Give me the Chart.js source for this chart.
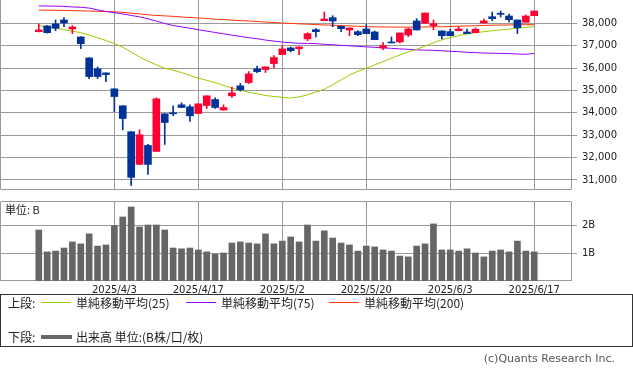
<!DOCTYPE html>
<html>
<head>
<meta charset="utf-8">
<script src="https://cdn.jsdelivr.net/npm/chart.js@4.4.1/dist/chart.umd.min.js"></script>
<style>
  body { margin: 0; background: #fff; width: 633px; height: 372px; position: relative; overflow: hidden; }
  canvas { position: absolute; left: 0; }
  #priceChart { top: 0; }
  #volumeChart { top: 195px; }
  .txt { position: absolute; white-space: nowrap; font-family: "Noto Sans CJK JP", sans-serif; color: #222; }
  #unit { left: 5px; top: 201px; font-size: 11px; }
  #legendBox { position: absolute; left: 0; top: 294px; width: 631px; height: 51px; border: 1px solid #333; }
  .sw { position: absolute; }
  #copy { right: 18px; top: 352px; font-size: 11px; color: #555; font-family: "DejaVu Sans", sans-serif; }
</style>
</head>
<body>
<canvas id="priceChart" width="633" height="192"></canvas>
<canvas id="volumeChart" width="633" height="100"></canvas>
<div class="txt" id="unit">単位: B</div>
<div id="legendBox">
  <div class="txt" style="left:7px; top:-1px; font-size:12px;">上段:</div>
  <div class="sw" style="left:40px; top:7px; width:30px; height:1px; background:#99cc00;"></div>
  <div class="txt" style="left:75px; top:-1px; font-size:12px;">単純移動平均(25)</div>
  <div class="sw" style="left:185px; top:7px; width:30px; height:1px; background:#9900ff;"></div>
  <div class="txt" style="left:220px; top:-1px; font-size:12px;">単純移動平均(75)</div>
  <div class="sw" style="left:328px; top:7px; width:30px; height:1px; background:#ff3300;"></div>
  <div class="txt" style="left:363px; top:-1px; font-size:12px;">単純移動平均(200)</div>
  <div class="txt" style="left:7px; top:33px; font-size:12px;">下段:</div>
  <div class="sw" style="left:40px; top:40px; width:31px; height:4px; background:#666;"></div>
  <div class="txt" style="left:75px; top:33px; font-size:12px;">出来高 単位:(B株/口/枚)</div>
</div>
<div class="txt" id="copy">(c)Quants Research Inc.</div>

<script>
const dates = ['2025/3/21','2025/3/24','2025/3/25','2025/3/26','2025/3/27','2025/3/28','2025/3/31',
  '2025/4/1','2025/4/2','2025/4/3','2025/4/4','2025/4/7','2025/4/8','2025/4/9','2025/4/10','2025/4/11',
  '2025/4/14','2025/4/15','2025/4/16','2025/4/17','2025/4/18','2025/4/21','2025/4/22','2025/4/23','2025/4/24','2025/4/25',
  '2025/4/28','2025/4/30','2025/5/1','2025/5/2','2025/5/7','2025/5/8','2025/5/9',
  '2025/5/12','2025/5/13','2025/5/14','2025/5/15','2025/5/16','2025/5/19','2025/5/20','2025/5/21','2025/5/22','2025/5/23',
  '2025/5/26','2025/5/27','2025/5/28','2025/5/29','2025/5/30','2025/6/2','2025/6/3','2025/6/4','2025/6/5','2025/6/6',
  '2025/6/9','2025/6/10','2025/6/11','2025/6/12','2025/6/13','2025/6/16','2025/6/17'];

const open  = [37625,37880,37970,38147,37746,37389,36452,35962,35783,35070,34312,33152,31694,32541,32273,33955,
  34000,34356,34267,33968,34325,34593,34120,34758,35204,35351,35962,35931,36198,36600,36898,36867,37300,
  37715,38116,38250,37866,37701,37625,37746,37612,36898,37166,37166,37478,38103,38000,37893,37656,37625,
  37670,37612,37581,38013,38294,38446,38325,38147,38045,38339];
const high  = [37970,37900,38147,38250,37893,37400,36460,36051,35790,35080,34320,33160,33241,32586,34668,33960,
  34312,34445,34356,34405,34758,34669,34356,35146,35306,35841,36082,36051,36555,37001,36943,36943,37580,
  37759,38504,38339,37870,37790,37670,37938,37656,37135,37389,37567,37790,38205,38459,38147,37660,37732,
  37848,37746,37790,38192,38504,38549,38415,38150,38370,38549];
const low   = [37612,37560,37670,37848,37536,36867,35529,35529,35395,34057,33241,30757,31694,31248,32273,32586,
  33866,34236,33612,33968,34191,34192,34120,34682,34967,35306,35797,35797,36006,36600,36720,36600,37224,
  37389,38116,37848,37625,37447,37447,37536,37269,36823,37121,37121,37402,37701,38000,37715,37300,37447,
  37670,37536,37581,38013,38116,38281,38058,37536,38045,38339];
const close = [37700,37580,37777,38013,37835,37090,35618,35618,35708,34726,33745,31114,33018,31694,34624,33567,
  33955,34236,33866,34401,34758,34236,34236,34891,35025,35739,35841,36051,36466,36854,36778,36943,37536,
  37625,38192,38103,37759,37790,37491,37536,37269,37001,37121,37567,37746,37701,38459,37982,37447,37447,
  37746,37536,37732,38103,38205,38401,38161,37804,38325,38549];

const ma25  = [37890,37840,37780,37710,37650,37580,37470,37350,37230,37090,36930,36720,36490,36310,36140,35990,
  35900,35797,35670,35547,35450,35351,35225,35101,35010,34923,34850,34771,34730,34690,34660,34710,34800,
  34930,35050,35250,35470,35690,35850,35993,36140,36287,36440,36586,36720,36840,36980,37130,37260,37358,
  37445,37523,37575,37625,37665,37701,37740,37777,37812,37848];
const ma75  = [38775,38770,38765,38755,38730,38715,38680,38600,38530,38470,38420,38350,38290,38200,38100,37990,
  37900,37840,37780,37710,37650,37590,37530,37470,37410,37355,37310,37250,37205,37160,37130,37105,37100,
  37090,37060,37040,37015,36995,36970,36945,36925,36900,36880,36855,36835,36810,36800,36790,36770,36750,
  36730,36705,36690,36670,36660,36655,36645,36625,36615,36650];
const ma200 = [38590,38585,38580,38575,38565,38555,38545,38535,38525,38510,38490,38450,38420,38380,38350,38330,
  38310,38280,38260,38235,38215,38180,38160,38140,38120,38100,38080,38055,38035,38010,37995,37975,37960,
  37940,37925,37910,37895,37880,37865,37850,37840,37835,37830,37830,37830,37830,37835,37840,37845,37855,
  37870,37880,37890,37905,37915,37920,37925,37930,37935,37940];

const volume = [1.84,1.05,1.08,1.19,1.41,1.34,1.70,1.26,1.30,2.00,2.31,2.67,1.95,2.02,2.02,1.84,
  1.19,1.16,1.19,1.12,1.05,0.97,1.01,1.37,1.41,1.37,1.34,1.70,1.34,1.44,1.59,1.41,2.02,
  1.44,1.81,1.55,1.37,1.30,1.08,1.26,1.23,1.12,1.08,0.90,0.87,1.26,1.34,2.06,1.12,1.12,
  1.08,1.16,1.01,0.87,1.08,1.12,1.05,1.44,1.08,1.05];

const tickDates = ['2025/4/3','2025/4/17','2025/5/2','2025/5/20','2025/6/3','2025/6/17'];
const priceTicks = [31000,32000,33000,34000,35000,36000,37000,38000];
const volumeTicks = [1, 2];

const UP = '#ff0033', DOWN = '#003399', GRID = '#999999';
const tickIdx = tickDates.map(function(d) { return dates.indexOf(d); });
const candleColors = close.map(function(c, i) { return c >= open[i] ? UP : DOWN; });

// border round the plot area
const framePlugin = {
  id: 'frame',
  beforeDatasetsDraw: function(chart, args, opts) {
    const a = chart.chartArea, c = chart.ctx;
    const l = Math.round(a.left) - 0.5, r = Math.round(a.right) - 0.5;
    const t = Math.round(a.top) - 0.5, b = Math.round(a.bottom) - 0.5;
    c.save();
    c.strokeStyle = GRID;
    c.lineWidth = 1;
    c.beginPath();
    if (opts.top) { c.moveTo(l, t); c.lineTo(r, t); }
    c.moveTo(l, a.top); c.lineTo(l, b);
    c.lineTo(r, b);
    c.lineTo(r, a.top);
    c.stroke();
    c.restore();
  }
};

function xAxis(showLabels) {
  return {
    type: 'linear',
    min: -4.5,
    max: 63.5,
    offset: false,
    afterBuildTicks: function(scale) {
      scale.ticks = tickIdx.map(function(v) { return { value: v }; });
    },
    afterFit: function(scale) {
      scale.height = showLabels ? 14 : 2;
      scale.paddingLeft = 0;
      scale.paddingRight = 0;
    },
    grid: { color: GRID, drawTicks: false, offset: false },
    border: { display: false },
    ticks: {
      display: showLabels,
      padding: 3,
      maxRotation: 0,
      autoSkip: false,
      color: '#222',
      font: { family: 'DejaVu Sans', size: 10 },
      callback: function(v) { return dates[v]; }
    }
  };
}

function yAxis(min, max, list, fmt) {
  return {
    type: 'linear',
    position: 'right',
    min: min,
    max: max,
    afterBuildTicks: function(scale) {
      scale.ticks = list.map(function(v) { return { value: v }; });
    },
    afterFit: function(scale) {
      scale.width = 61;
      scale.paddingTop = 0;
      scale.paddingBottom = 0;
    },
    grid: { color: GRID, tickLength: 5, tickColor: GRID },
    border: { display: false },
    ticks: {
      padding: 5,
      color: '#222',
      font: { family: 'DejaVu Sans', size: 10 },
      callback: fmt
    }
  };
}

const priceChart = new Chart(document.getElementById('priceChart').getContext('2d'), {
  data: {
    datasets: [
      {
        type: 'line', label: 'MA25', order: 3,
        data: ma25.map(function(v, i) { return { x: i, y: v }; }),
        borderColor: '#99cc00', borderWidth: 1, pointRadius: 0, tension: 0
      },
      {
        type: 'line', label: 'MA75', order: 3,
        data: ma75.map(function(v, i) { return { x: i, y: v }; }),
        borderColor: '#9900ff', borderWidth: 1, pointRadius: 0, tension: 0
      },
      {
        type: 'line', label: 'MA200', order: 3,
        data: ma200.map(function(v, i) { return { x: i, y: v }; }),
        borderColor: '#ff3300', borderWidth: 1, pointRadius: 0, tension: 0
      },
      {
        type: 'bar', label: 'wick', order: 1, grouped: false,
        data: low.map(function(v, i) { return { x: i, y: [v, high[i]] }; }),
        backgroundColor: candleColors, barThickness: 1
      },
      {
        type: 'bar', label: 'body', order: 0, grouped: false,
        data: open.map(function(v, i) { return { x: i, y: [v, close[i]] }; }),
        backgroundColor: candleColors, barThickness: 7, minBarLength: 1
      }
    ]
  },
  options: {
    responsive: false,
    animation: false,
    layout: { padding: { left: 1, top: 0, right: 0, bottom: 0 } },
    plugins: { legend: { display: false }, tooltip: { enabled: false }, frame: { top: false } },
    scales: {
      x: xAxis(false),
      y: yAxis(30550, 39040, priceTicks, function(v) { return v.toLocaleString('en-US'); })
    }
  },
  plugins: [framePlugin]
});

const volumeChart = new Chart(document.getElementById('volumeChart').getContext('2d'), {
  type: 'bar',
  data: {
    datasets: [{
      label: '出来高',
      data: volume.map(function(v, i) { return { x: i, y: v }; }),
      backgroundColor: '#666666',
      barThickness: 6
    }]
  },
  options: {
    responsive: false,
    animation: false,
    layout: { padding: { left: 1, top: 7, right: 0, bottom: 0 } },
    plugins: { legend: { display: false }, tooltip: { enabled: false }, frame: { top: true } },
    scales: {
      x: xAxis(true),
      y: yAxis(0, 2.85, volumeTicks, function(v) { return v + 'B'; })
    }
  },
  plugins: [framePlugin]
});
</script>
</body>
</html>
